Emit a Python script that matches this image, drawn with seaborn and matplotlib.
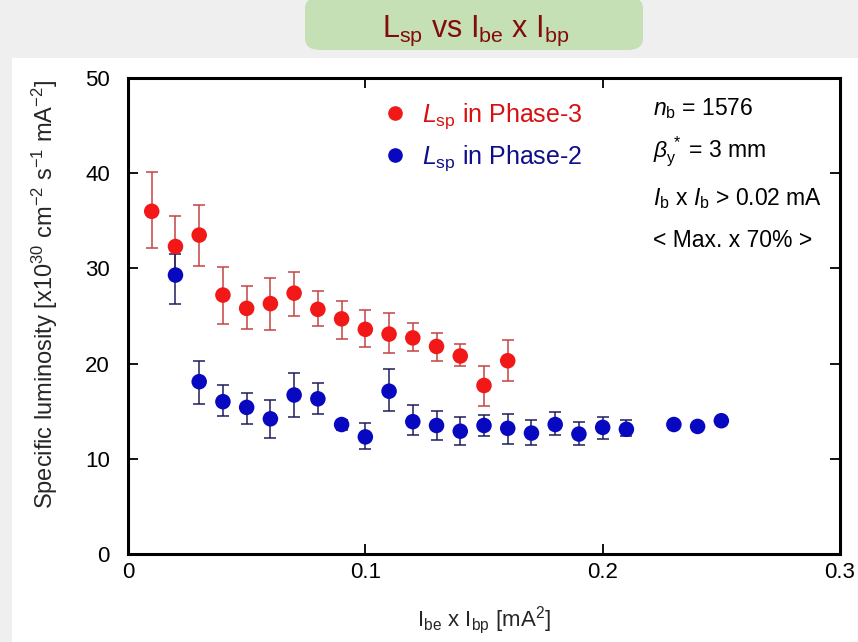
import numpy as np
import pandas as pd
import matplotlib
matplotlib.use("Agg")
import matplotlib.pyplot as plt
import seaborn as sns
from matplotlib.patches import FancyBboxPatch, Rectangle

# Phase-3 data
x_p3 = [0.01, 0.02, 0.03, 0.04, 0.05, 0.06, 0.07, 0.08, 0.09, 0.10,
        0.11, 0.12, 0.13, 0.14, 0.15, 0.16]
y_p3 = [36.0, 32.3, 33.5, 27.2, 25.8, 26.3, 27.4, 25.7, 24.7, 23.6,
        23.1, 22.7, 21.8, 20.8, 17.7, 20.3]
lo_p3 = [32.1, 29.6, 30.3, 24.2, 23.6, 23.5, 25.0, 23.9, 22.6, 21.7,
         21.1, 21.3, 20.3, 19.7, 15.5, 18.2]
hi_p3 = [40.1, 35.5, 36.7, 30.1, 28.1, 29.0, 29.6, 27.6, 26.6, 25.6,
         25.3, 24.3, 23.2, 22.1, 19.8, 22.5]

# Phase-2 data
x_p2 = [0.02, 0.03, 0.04, 0.05, 0.06, 0.07, 0.08, 0.09, 0.10, 0.11,
        0.12, 0.13, 0.14, 0.15, 0.16, 0.17, 0.18, 0.19, 0.20, 0.21,
        0.23, 0.24, 0.25]
y_p2 = [29.3, 18.1, 16.0, 15.4, 14.2, 16.7, 16.3, 13.6, 12.3, 17.1,
        13.9, 13.5, 12.9, 13.5, 13.2, 12.7, 13.6, 12.6, 13.3, 13.1,
        13.6, 13.4, 14.0]
lo_p2 = [26.3, 15.8, 14.5, 13.7, 12.2, 14.4, 14.7, 13.0, 11.0, 15.0,
         12.5, 12.0, 11.4, 12.4, 11.6, 11.4, 12.5, 11.5, 12.1, 12.4,
         13.6, 13.4, 14.0]
hi_p2 = [31.5, 20.3, 17.7, 16.9, 16.2, 19.0, 18.0, 14.1, 13.8, 19.4,
         15.7, 15.0, 14.4, 14.6, 14.7, 14.1, 14.9, 13.9, 14.4, 14.1,
         13.6, 13.4, 14.0]

labels = [r"$\mathit{L}_{\rm sp}$ in Phase-3", r"$\mathit{L}_{\rm sp}$ in Phase-2"]
x_ticks = [0, 0.1, 0.2, 0.3]
x_ticklabels = ["0", "0.1", "0.2", "0.3"]
y_ticks = [0, 10, 20, 30, 40, 50]

red = "#f21818"
blue = "#0808c0"

sns.set_style("ticks")
plt.rcParams["font.family"] = ["Liberation Sans", "DejaVu Sans"]
plt.rcParams["mathtext.fontset"] = "custom"
plt.rcParams["mathtext.rm"] = "Liberation Sans"
plt.rcParams["mathtext.it"] = "Liberation Sans:italic"

df = pd.DataFrame({
    "x": x_p3 + x_p2,
    "y": y_p3 + y_p2,
    "phase": [labels[0]] * len(x_p3) + [labels[1]] * len(x_p2),
})

fig = plt.figure(figsize=(8.58, 6.42), dpi=100)
fig.patch.set_facecolor("#efefef")
fig.patches.append(Rectangle((12 / 858, 0), 1, 1 - 58 / 642, transform=fig.transFigure,
                             facecolor="white", edgecolor="none", zorder=-10))

# title box
fig.patches.append(FancyBboxPatch((305 / 858, 1 - 50 / 642), 338 / 858, 53 / 642,
                                  boxstyle="round,pad=0,rounding_size=0.018",
                                  transform=fig.transFigure, facecolor="#c6e0b5",
                                  edgecolor="none", zorder=-5))
fig.text(476 / 858, 1 - 37 / 642, r"L$_{\rm sp}$ vs I$_{\rm be}$ x I$_{\rm bp}$",
         ha="center", va="baseline", fontsize=22, color="#820c0c", zorder=2)

ax = fig.add_axes([128 / 858, 1 - 554 / 642, 712 / 858, 476 / 642])
ax.set_zorder(1)
ax.set_facecolor("white")

# error bars
ax.errorbar(x_p3, y_p3, yerr=[np.array(y_p3) - np.array(lo_p3), np.array(hi_p3) - np.array(y_p3)],
            fmt="none", ecolor="#c44444", elinewidth=1.1, capsize=4, capthick=1.1, zorder=2)
ax.errorbar(x_p2, y_p2, yerr=[np.array(y_p2) - np.array(lo_p2), np.array(hi_p2) - np.array(y_p2)],
            fmt="none", ecolor="#1c1c5c", elinewidth=1.1, capsize=4, capthick=1.1, zorder=2)

sns.scatterplot(data=df, x="x", y="y", hue="phase", palette=[red, blue], s=125,
                edgecolor="none", ax=ax, zorder=3, legend=False)

ax.set_xlim(0, 0.3)
ax.set_ylim(0, 50)
ax.set_xticks(x_ticks)
ax.set_xticklabels(x_ticklabels)
ax.set_yticks(y_ticks)
ax.tick_params(direction="in", length=7, width=1.3, top=True, right=True,
               labelsize=16, colors="black")
ax.tick_params(axis="y", pad=13)
ax.tick_params(axis="x", pad=6)
for sp in ax.spines.values():
    sp.set_linewidth(2.2)
    sp.set_color("black")

ax.set_xlabel(r"I$_{\rm be}$ x I$_{\rm bp}$ [mA$^2$]", fontsize=16, va="top")
ax.xaxis.set_label_coords(0.5, -0.105)
ax.set_ylabel(r"Specific luminosity [x10$^{30}$ cm$^{-2}$ s$^{-1}$ mA$^{-2}$]", fontsize=17)
ax.yaxis.set_label_coords(-0.095, 0.545)

# legend
handles = [plt.Line2D([], [], marker="o", ls="none", color=c, markersize=9.5) for c in (red, blue)]
leg = ax.legend(handles, labels, loc="upper left", bbox_to_anchor=(0.357, 0.952), frameon=False,
                fontsize=18, handletextpad=0.58, labelspacing=0.5, handlelength=1.0,
                borderpad=0, borderaxespad=0)
for t, c in zip(leg.get_texts(), ("#d81010", "#0e0e8a")):
    t.set_color(c)

# beam conditions
info = [r"$\mathit{n}_{\rm b}$ = 1576",
        r"$\mathit{\beta}_{\rm y}^{\,*}$ = 3 mm",
        r"$\mathit{I}_{\rm b}$ x $\mathit{I}_{\rm b}$ > 0.02 mA",
        "< Max. x 70% >"]
info_y = [0.922, 0.834, 0.733, 0.645]
for s, yy in zip(info, info_y):
    ax.text(0.737, yy, s, transform=ax.transAxes, fontsize=16.5,
            ha="left", va="baseline", color="black")

fig.savefig("out.png", dpi=100, facecolor=fig.get_facecolor())
